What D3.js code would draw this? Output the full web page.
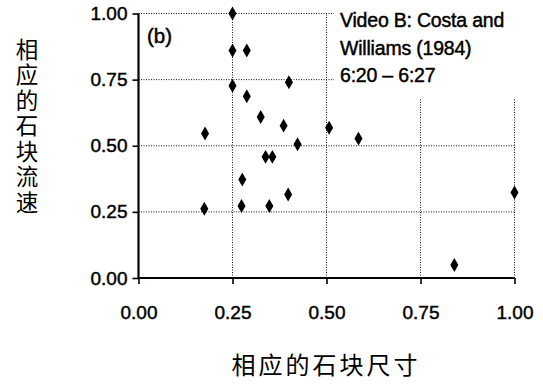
<!DOCTYPE html>
<html>
<head>
<meta charset="utf-8">
<script src="https://cdn.jsdelivr.net/npm/d3@7"></script>
<style>
  html, body { margin: 0; padding: 0; background: #fff; }
  svg { display: block; }
  text { font-family: "Liberation Sans", Arial, sans-serif; fill: #000; }
  .latin { stroke: #000; stroke-width: 0.45; }
  .cjk { font-family: "Noto Sans CJK SC", sans-serif; }
</style>
</head>
<body>
<svg id="chart" width="543" height="389"></svg>
<script>
// Relative block size (x) and relative block velocity (y)
const blockSize = [0.25, 0.25, 0.288, 0.25, 0.40, 0.288, 0.325, 0.386, 0.507, 0.177, 0.423,
                   0.338, 0.356, 0.585, 0.276, 0.398, 0.175, 0.274, 0.348, 1.00, 0.84];
const blockVelocity = [1.00, 0.86, 0.86, 0.727, 0.74, 0.687, 0.609, 0.576, 0.568, 0.546, 0.506,
                       0.458, 0.458, 0.527, 0.372, 0.316, 0.262, 0.272, 0.272, 0.323, 0.049];
const xTicks = [0, 0.25, 0.5, 0.75, 1.0];
const yTicks = [0, 0.25, 0.5, 0.75, 1.0];
const panelLabel = "(b)";
const sourceLines = ["Video B: Costa and", "Williams (1984)", "6:20 \u2013 6:27"];
const xTitle = "相应的石块尺寸";
const yTitle = "相应的石块流速";

const svg = d3.select("#chart");
const x = d3.scaleLinear().domain([0, 1]).range([138.5, 514.5]);
const y = d3.scaleLinear().domain([0, 1]).range([278, 13.5]);

// dotted grid
const grid = svg.append("g").attr("stroke", "#111").attr("stroke-width", 1)
  .attr("stroke-dasharray", "1,1.5").attr("fill", "none");
grid.selectAll(".gx").data(xTicks.filter(d => d > 0)).join("line")
  .attr("x1", d => x(d)).attr("x2", d => x(d)).attr("y1", y(0)).attr("y2", y(1));
grid.selectAll(".gy").data(yTicks.filter(d => d > 0)).join("line")
  .attr("y1", d => y(d)).attr("y2", d => y(d)).attr("x1", x(0)).attr("x2", x(1));

// axes
const fmt = d3.format(".2f");
const xAxis = svg.append("g").attr("transform", `translate(0,${y(0)})`)
  .call(d3.axisBottom(x).tickValues(xTicks).tickFormat(fmt).tickSize(6).tickPadding(22));
const yAxis = svg.append("g").attr("transform", `translate(${x(0)},0)`)
  .call(d3.axisLeft(y).tickValues(yTicks).tickFormat(fmt).tickSize(6).tickPadding(5));
[xAxis, yAxis].forEach(a => {
  a.select(".domain").attr("stroke", "#000").attr("stroke-width", 2.2);
  a.selectAll(".tick line").attr("stroke", "#000").attr("stroke-width", 1.6);
  a.selectAll(".tick text").attr("class", "latin").attr("font-size", 19).attr("fill", "#000")
    .attr("font-family", "'Liberation Sans', Arial, sans-serif");
});
xAxis.select(".domain").attr("d", `M${x(0)},0H${x(1)}`);
yAxis.select(".domain").attr("d", `M0,${y(0)}V${y(1)}`);

// source note with white backing
const note = svg.append("g");
note.append("rect").attr("x", 334).attr("y", 0).attr("width", 209).attr("height", 99).attr("fill", "#fff");
note.selectAll("text").data(sourceLines).join("text")
  .attr("class", "latin")
  .attr("x", 340).attr("y", (d, i) => 27 + i * 27.5)
  .attr("font-size", 19.5).attr("letter-spacing", -0.2).text(d => d);

svg.append("text").attr("class", "latin").attr("x", 147).attr("y", 43)
  .attr("font-size", 20.5).text(panelLabel);

// points
const pts = d3.zip(blockSize, blockVelocity);
svg.append("g").selectAll("path").data(pts).join("path")
  .attr("transform", d => `translate(${x(d[0])},${y(d[1])})`)
  .attr("d", d3.symbol(d3.symbolDiamond, 56))
  .attr("fill", "#000");

// titles
svg.append("text").attr("class", "cjk").attr("x", 326).attr("y", 374)
  .attr("text-anchor", "middle").attr("font-size", 24).attr("letter-spacing", 3).text(xTitle);
svg.append("text").attr("class", "cjk")
  .attr("x", 27).attr("y", 38)
  .attr("writing-mode", "tb")
  .style("writing-mode", "vertical-rl").style("text-orientation", "upright")
  .attr("font-size", 22.5).attr("letter-spacing", 3).text(yTitle);
</script>
</body>
</html>
